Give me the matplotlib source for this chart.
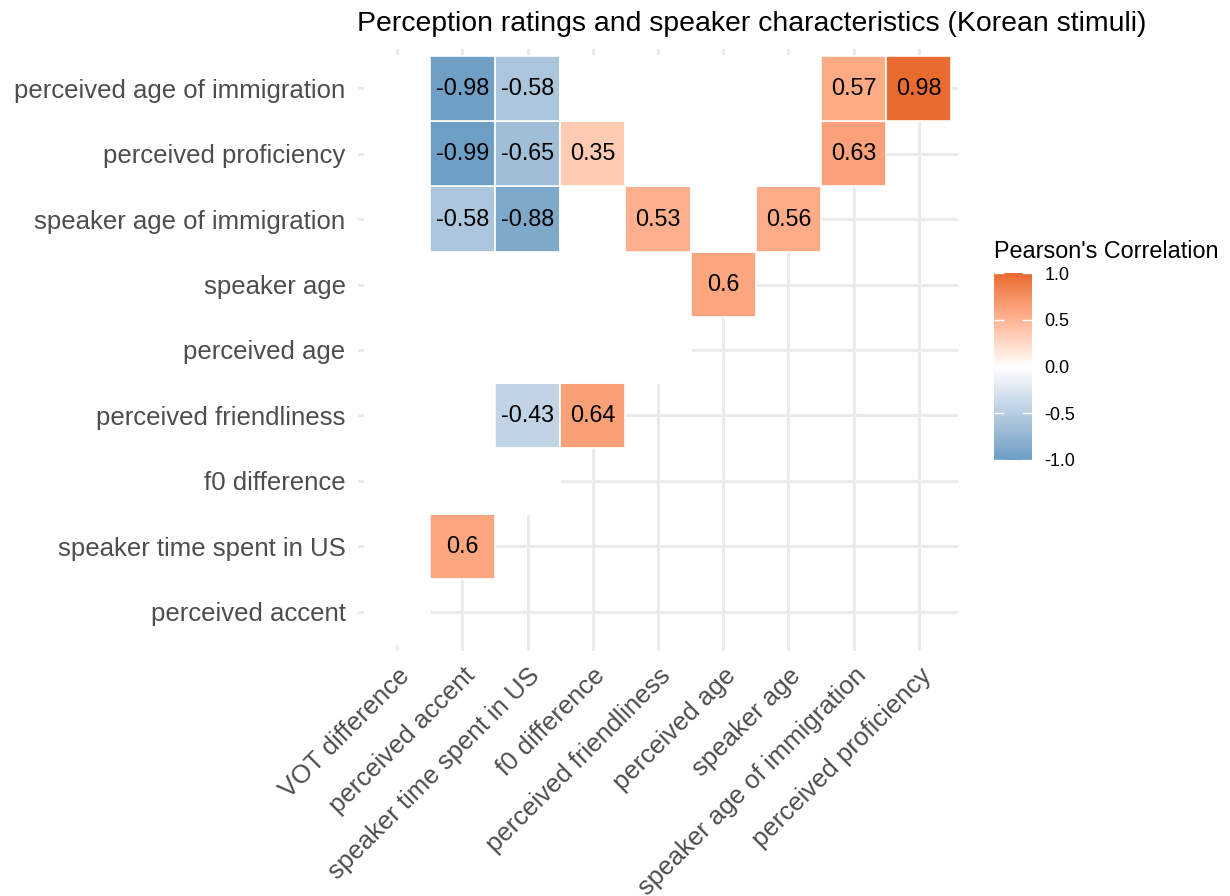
import numpy as np
import matplotlib
matplotlib.use("Agg")
import matplotlib.pyplot as plt
from matplotlib.colors import ListedColormap, Normalize
from matplotlib.patches import Rectangle
from matplotlib.cm import ScalarMappable

plt.rcParams['font.family'] = ['Liberation Sans', 'DejaVu Sans']

x_labels = ["VOT difference", "perceived accent", "speaker time spent in US",
            "f0 difference", "perceived friendliness", "perceived age",
            "speaker age", "speaker age of immigration", "perceived proficiency"]
y_labels = ["perceived accent", "speaker time spent in US", "f0 difference",
            "perceived friendliness", "perceived age", "speaker age",
            "speaker age of immigration", "perceived proficiency",
            "perceived age of immigration"]

# significant correlations (row = y label, col = x label); None = not significant
N = None
corr = [
    # VOT   acc    time   f0     friend age    sage   sAoI   prof
    [N,     N,     N,     N,     N,     N,     N,     N,     N],   # perceived accent
    [N,     0.60,  N,     N,     N,     N,     N,     N,     N],   # speaker time spent in US
    [N,     N,     N,     N,     N,     N,     N,     N,     N],   # f0 difference
    [N,     N,     -0.43, 0.64,  N,     N,     N,     N,     N],   # perceived friendliness
    [N,     N,     N,     N,     N,     N,     N,     N,     N],   # perceived age
    [N,     N,     N,     N,     N,     0.60,  N,     N,     N],   # speaker age
    [N,     -0.58, -0.88, N,     0.53,  N,     0.56,  N,     N],   # speaker age of immigration
    [N,     -0.99, -0.65, 0.35,  N,     N,     N,     0.63,  N],   # perceived proficiency
    [N,     -0.98, -0.58, N,     N,     N,     N,     0.57,  0.98],  # perceived age of immigration
]

title = "Perception ratings and speaker characteristics (Korean stimuli)"
legend_title = "Pearson's Correlation"
legend_ticks = [-1.0, -0.5, 0.0, 0.5, 1.0]

low_col = "#6C9EC4"
high_col = "#E8692D"


# ---- Lab interpolation (like ggplot's scale_fill_gradient2) ----
def hex2rgb(h):
    h = h.lstrip('#')
    return np.array([int(h[i:i + 2], 16) / 255 for i in (0, 2, 4)])


def srgb2lin(c):
    return np.where(c <= 0.04045, c / 12.92, ((c + 0.055) / 1.055) ** 2.4)


def lin2srgb(c):
    c = np.clip(c, 0, 1)
    return np.where(c <= 0.0031308, 12.92 * c, 1.055 * c ** (1 / 2.4) - 0.055)


M = np.array([[0.4124, 0.3576, 0.1805], [0.2126, 0.7152, 0.0722], [0.0193, 0.1192, 0.9505]])
Minv = np.linalg.inv(M)
WP = np.array([0.95047, 1.0, 1.08883])


def f(t):
    d = 6 / 29
    return np.where(t > d ** 3, np.cbrt(t), t / (3 * d * d) + 4 / 29)


def finv(t):
    d = 6 / 29
    return np.where(t > d, t ** 3, 3 * d * d * (t - 4 / 29))


def rgb2lab(c):
    xyz = M @ srgb2lin(c) / WP
    fx, fy, fz = f(xyz)
    return np.array([116 * fy - 16, 500 * (fx - fy), 200 * (fy - fz)])


def lab2rgb(lab):
    L, a, b = lab
    fy = (L + 16) / 116
    fx = fy + a / 500
    fz = fy - b / 200
    xyz = finv(np.array([fx, fy, fz])) * WP
    return lin2srgb(Minv @ xyz)


lab_low = rgb2lab(hex2rgb(low_col))
lab_mid = rgb2lab(np.array([1.0, 1.0, 1.0]))
lab_high = rgb2lab(hex2rgb(high_col))
cols = []
for t in np.linspace(-1, 1, 256):
    if t < 0:
        lab = lab_mid + (lab_low - lab_mid) * (-t)
    else:
        lab = lab_mid + (lab_high - lab_mid) * t
    cols.append(lab2rgb(lab))
cmap = ListedColormap(np.array(cols))
norm = Normalize(-1, 1)

# ---- figure ----
fig = plt.figure(figsize=(12.3, 8.96), dpi=100)
ax = fig.add_axes([358 / 1230, 1 - 651 / 896, 600 / 1230, 602 / 896])

nx, ny = len(x_labels), len(y_labels)
for j in range(ny):
    for i in range(nx):
        if j < i:
            continue
        v = corr[j][i]
        fc = 'white' if v is None else cmap(norm(v))
        ax.add_patch(Rectangle((i - 0.5, j - 0.5), 1, 1, facecolor=fc,
                               edgecolor='white', linewidth=1.2, zorder=2))
        if v is not None:
            s = f"{v:g}"
            ax.text(i, j, s, ha='center', va='center', fontsize=16.8,
                    color='black', zorder=3)

ax.set_xlim(-0.6, nx - 1 + 0.6)
ax.set_ylim(-0.6, ny - 1 + 0.6)
ax.set_xticks(range(nx))
ax.set_yticks(range(ny))
ax.set_xticklabels(x_labels, rotation=45, ha='right', va='top',
                   rotation_mode='anchor', fontsize=18.5, color='#4D4D4D')
ax.set_yticklabels(y_labels, fontsize=18.5, color='#4D4D4D')
ax.tick_params(length=0, pad=9)
ax.grid(True, color='#EBEBEB', linewidth=2.2, zorder=0)
ax.set_axisbelow(True)
for sp in ax.spines.values():
    sp.set_visible(False)

fig.text(357 / 1230, 1 - 24 / 896, title, ha='left', va='center',
         fontsize=20.4, color='black')

# ---- colorbar legend ----
cax = fig.add_axes([994 / 1230, 1 - 460 / 896, 38 / 1230, 187 / 896])
sm = ScalarMappable(norm=norm, cmap=cmap)
cb = fig.colorbar(sm, cax=cax, ticks=legend_ticks)
cb.outline.set_visible(False)
cb.ax.set_yticklabels([f"{t:.1f}" for t in legend_ticks])
cb.ax.tick_params(which='both', left=True, right=True, labelleft=False,
                  labelright=True, direction='in', length=7, width=1,
                  color='white', labelcolor='black', labelsize=13, pad=9)
fig.text(994 / 1230, 1 - 251 / 896, legend_title, ha='left', va='center',
         fontsize=16.8, color='black')

fig.savefig("out.png", dpi=100)
